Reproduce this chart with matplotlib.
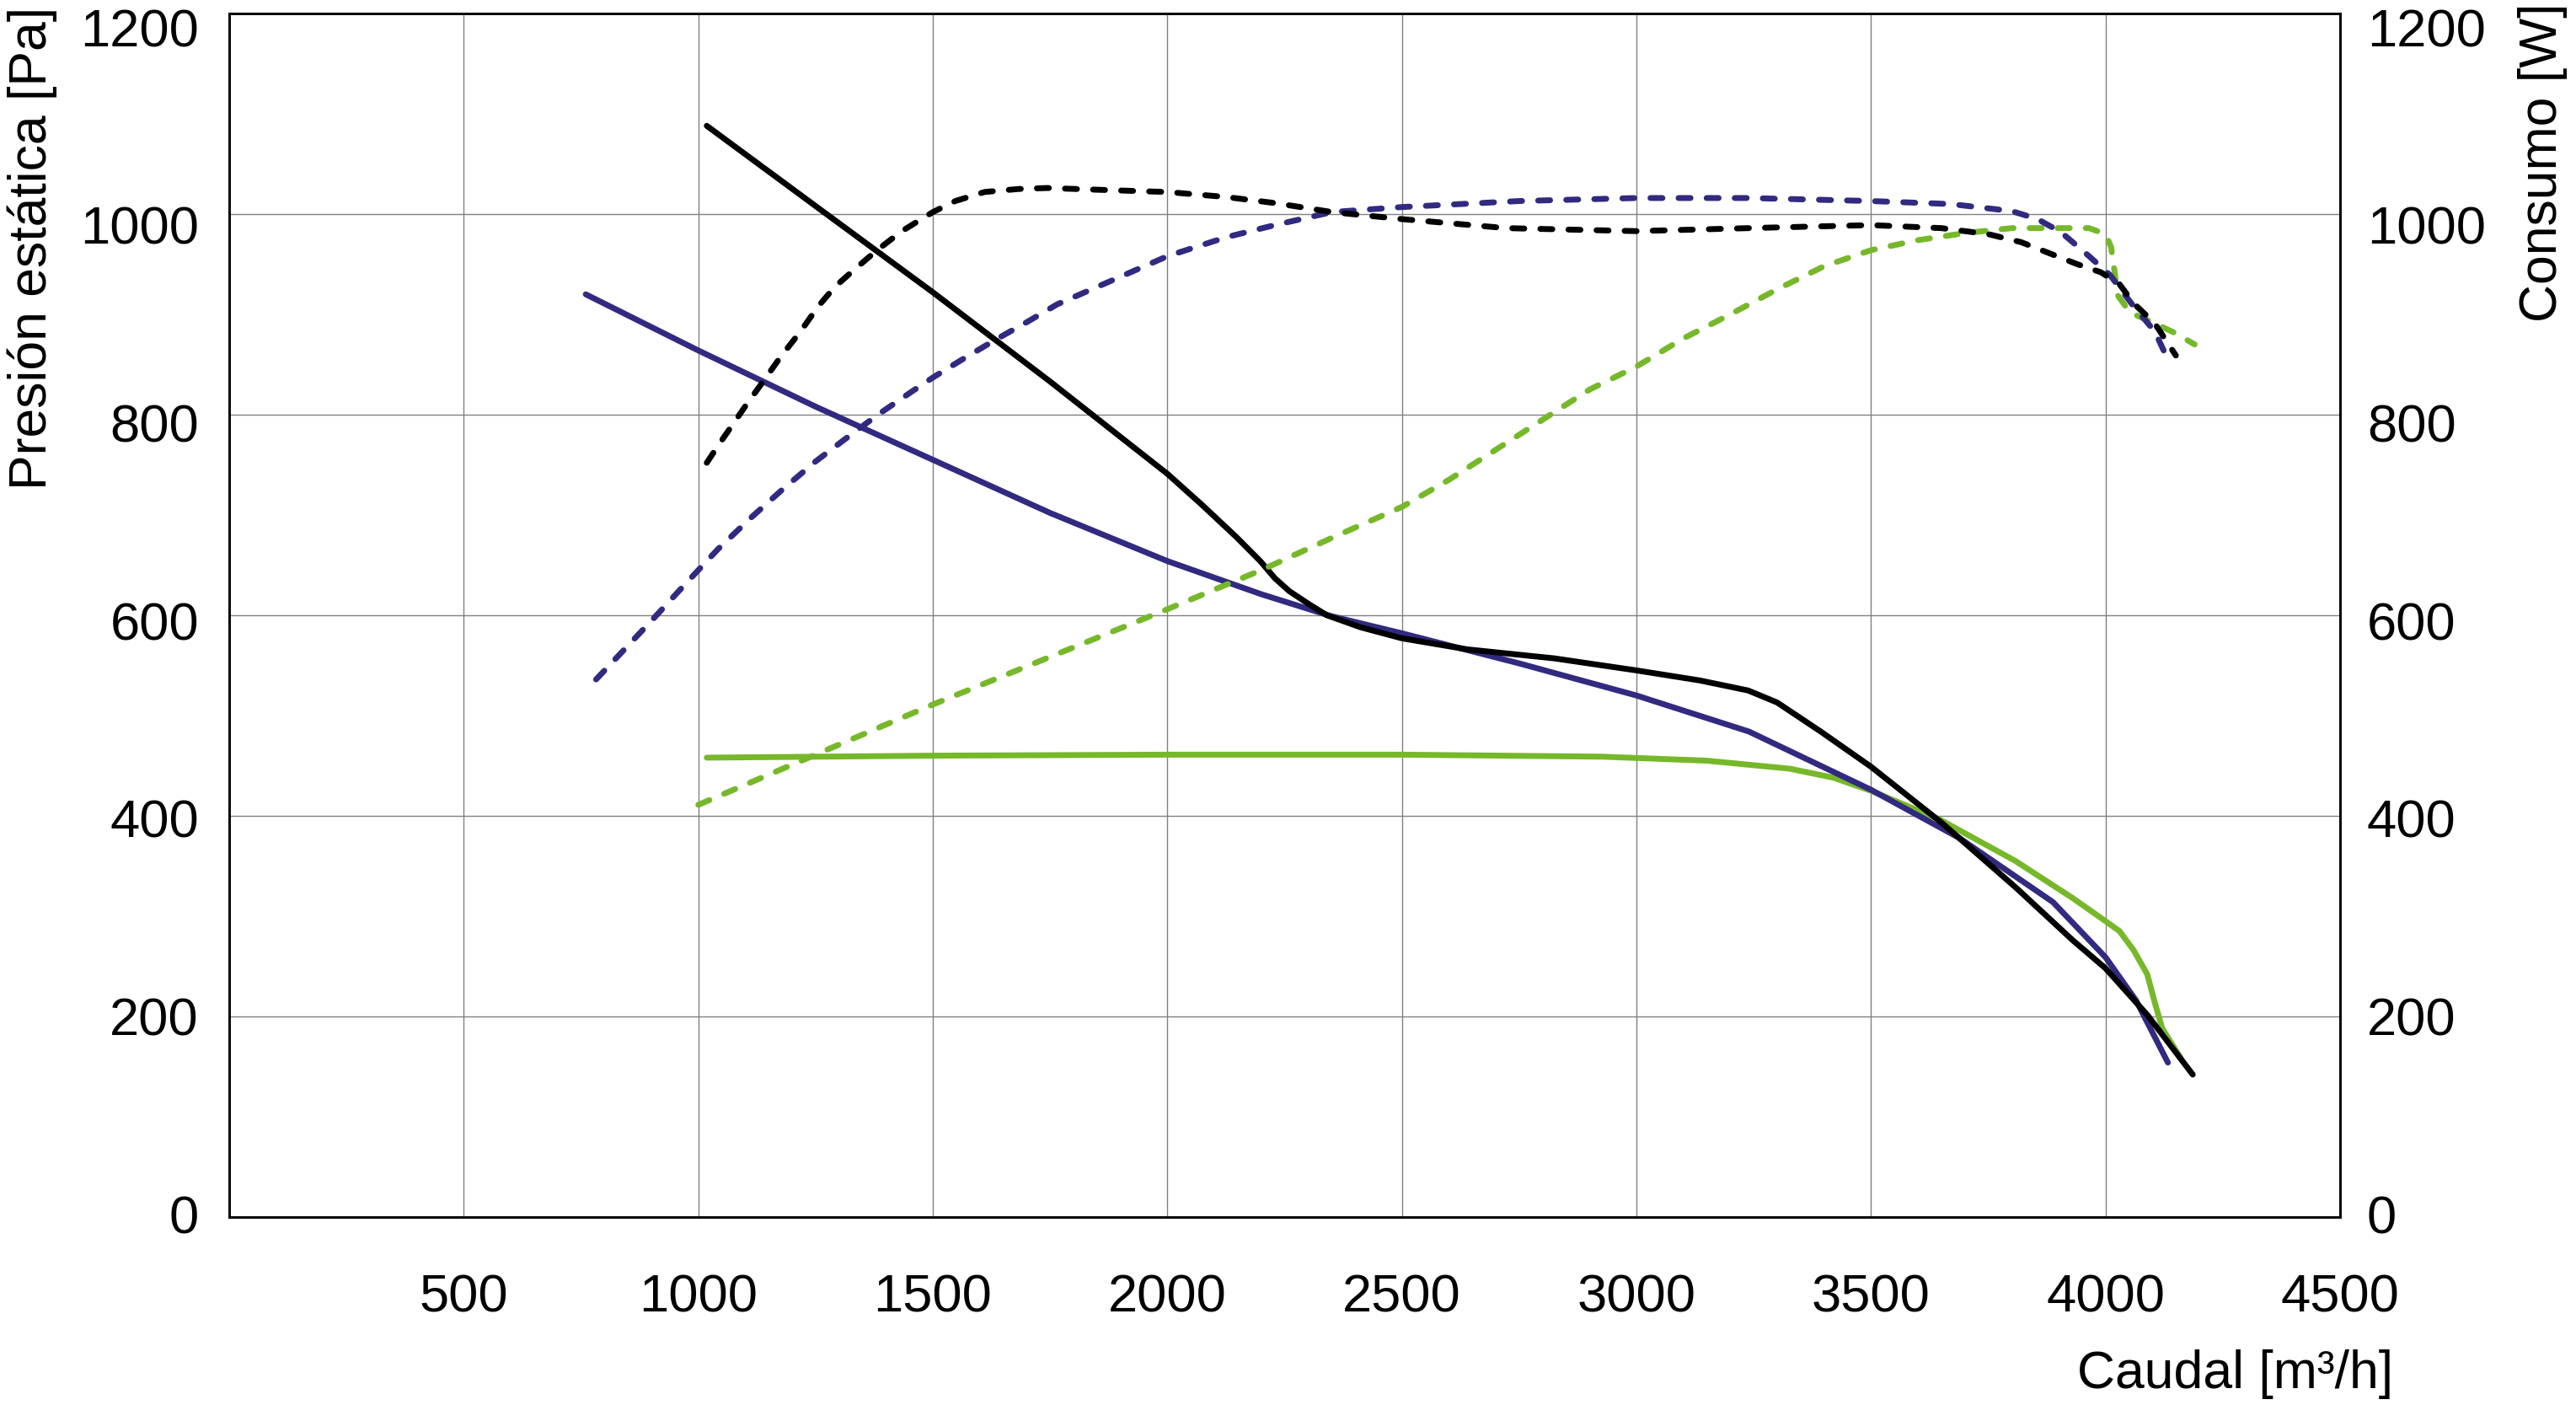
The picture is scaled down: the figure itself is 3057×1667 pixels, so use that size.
import matplotlib
matplotlib.use("Agg")
import matplotlib.pyplot as plt

plt.rcParams["font.family"] = ["Liberation Sans", "DejaVu Sans"]

# ── Curve data (caudal m3/h -> Pa / W) ──
navy_p_x = [760, 1000, 1250, 1500, 1750, 2000, 2200, 2350, 2500, 2750, 3000, 3240, 3500, 3688, 3888, 4000, 4065, 4133]
navy_p_y = [920, 864, 808, 755, 702, 654, 621, 599, 582, 552, 520, 484, 426, 378, 314, 259, 216, 154]

black_p_x = [1018, 1250, 1500, 1750, 2000, 2074, 2147, 2198, 2229, 2260, 2302, 2340, 2412, 2500, 2639, 2825,
             3000, 3135, 3238, 3300, 3393, 3500, 3651, 3810, 3930, 4000, 4090, 4186]
black_p_y = [1088, 1008, 922, 833, 741, 710, 678, 654, 637, 624, 611, 600, 588, 577, 566, 557,
             545, 535, 525, 513, 484, 449, 393, 328, 276, 248, 201, 142]

green_p_x = [1018, 1500, 2000, 2500, 2926, 3150, 3327, 3420, 3500, 3648, 3808, 3930, 4000, 4030, 4060, 4089, 4105, 4121, 4161]
green_p_y = [458, 460, 461, 461, 459, 455, 447, 438, 425, 396, 355, 318, 295, 285, 266, 242, 214, 188, 158]

black_w_x = [1018, 1042, 1073, 1104, 1135, 1176, 1218, 1254, 1290, 1331, 1381, 1434, 1500, 1548, 1610, 1682, 1744,
             1868, 2000, 2126, 2229, 2351, 2500, 2722, 3000, 3240, 3500, 3650, 3750, 3820, 3880, 3940, 3990, 4030,
             4060, 4105, 4150]
black_w_y = [752, 769, 790, 811, 831, 858, 883, 907, 927, 944, 964, 983, 1002, 1013, 1022, 1025, 1026,
             1024, 1022, 1017, 1011, 1002, 995, 986, 983, 986, 989, 986, 980, 972, 961, 950, 942, 930,
             911, 891, 859]

navy_w_x = [782, 903, 970, 1000, 1042, 1114, 1176, 1249, 1311, 1383, 1455, 1500, 1559, 1631, 1703, 1765, 1868,
            2000, 2126, 2229, 2351, 2500, 2750, 3000, 3240, 3500, 3670, 3800, 3855, 3905, 3965, 4010, 4060, 4105, 4130]
navy_w_y = [536, 596, 630, 645, 666, 698, 724, 753, 775, 800, 823, 837, 854, 874, 893, 910, 931,
            958, 977, 989, 1002, 1007, 1013, 1016, 1016, 1013, 1010, 1003, 995, 982, 958, 939, 908, 883, 858]

green_w_x = [1000, 1500, 2000, 2200, 2350, 2500, 2600, 2700, 2800, 2900, 3000, 3100, 3200, 3300, 3400, 3500,
             3600, 3700, 3800, 3965, 4000, 4012, 4018, 4026, 4052, 4105, 4150, 4190]
green_w_y = [411, 511, 606, 645, 677, 708, 735, 765, 795, 825, 848, 876, 900, 925, 948, 964,
             974, 981, 986, 986, 980, 967, 947, 919, 902, 891, 881, 870]

x_ticks = [500, 1000, 1500, 2000, 2500, 3000, 3500, 4000, 4500]
y_ticks = [0, 200, 400, 600, 800, 1000, 1200]

NAVY  = "#312a80"
GREEN = "#76b82a"
BLACK = "#000000"
LW    = 5.0
DASH  = (2.05, 2.75)
TICK_FS  = 45.5
LABEL_FS = 45

fig = plt.figure(figsize=(30.57, 16.67), dpi=100)
ax = fig.add_axes([0.0890, 0.1338, 0.8194, 0.8566])
ax2 = ax.twinx()

# pressure curves (left axis)
ax.plot(green_p_x, green_p_y, color=GREEN, lw=LW, solid_capstyle="round", solid_joinstyle="round", zorder=3)
ax.plot(navy_p_x, navy_p_y, color=NAVY, lw=LW, solid_capstyle="round", solid_joinstyle="round", zorder=4)
ax.plot(black_p_x, black_p_y, color=BLACK, lw=LW, solid_capstyle="round", solid_joinstyle="round", zorder=5)

# power curves (right axis)
for xs, ys, c in ((green_w_x, green_w_y, GREEN), (navy_w_x, navy_w_y, NAVY), (black_w_x, black_w_y, BLACK)):
    ln, = ax2.plot(xs, ys, color=c, lw=LW)
    ln.set_dashes(DASH)
    ln.set_dash_capstyle("round")
    ln.set_dash_joinstyle("round")

for a in (ax, ax2):
    a.set_xlim(0, 4500)
    a.set_ylim(0, 1200)
    a.set_yticks(y_ticks)
    a.tick_params(length=0, labelleft=False, labelright=False)

ax.set_xticks(x_ticks)
ax.tick_params(axis="x", labelsize=TICK_FS, pad=48)
ax.grid(True, color="#808080", lw=1.0)
ax.set_axisbelow(True)
for a in (ax, ax2):
    for sp in a.spines.values():
        sp.set_linewidth(1.9)
        sp.set_color("black")

# y tick labels: drift slightly downward towards the top, as in the source
for v in y_ticks:
    off_px = -3 + 0.0163 * v + 22.5
    ax.annotate(str(v), xy=(0, v), xycoords=("axes fraction", "data"),
                xytext=(-26.0, -off_px * 0.72), textcoords="offset points",
                ha="right", va="baseline", fontsize=TICK_FS)
    ax2.annotate(str(v), xy=(1, v), xycoords=("axes fraction", "data"),
                 xytext=(23.0, -off_px * 0.72), textcoords="offset points",
                 ha="left", va="baseline", fontsize=TICK_FS)

fig.text(8 / 3057, 1 - 8 / 1667, "Presión estática [Pa]", rotation=90,
         ha="left", va="top", fontsize=LABEL_FS)
fig.text(2988 / 3057, 1 - 3 / 1667, "Consumo [W]", rotation=90,
         ha="left", va="top", fontsize=LABEL_FS)
fig.text(2840 / 3057, 1 - 1647 / 1667, "Caudal [m³/h]",
         ha="right", va="baseline", fontsize=LABEL_FS)

fig.savefig("out.png", dpi=100)
